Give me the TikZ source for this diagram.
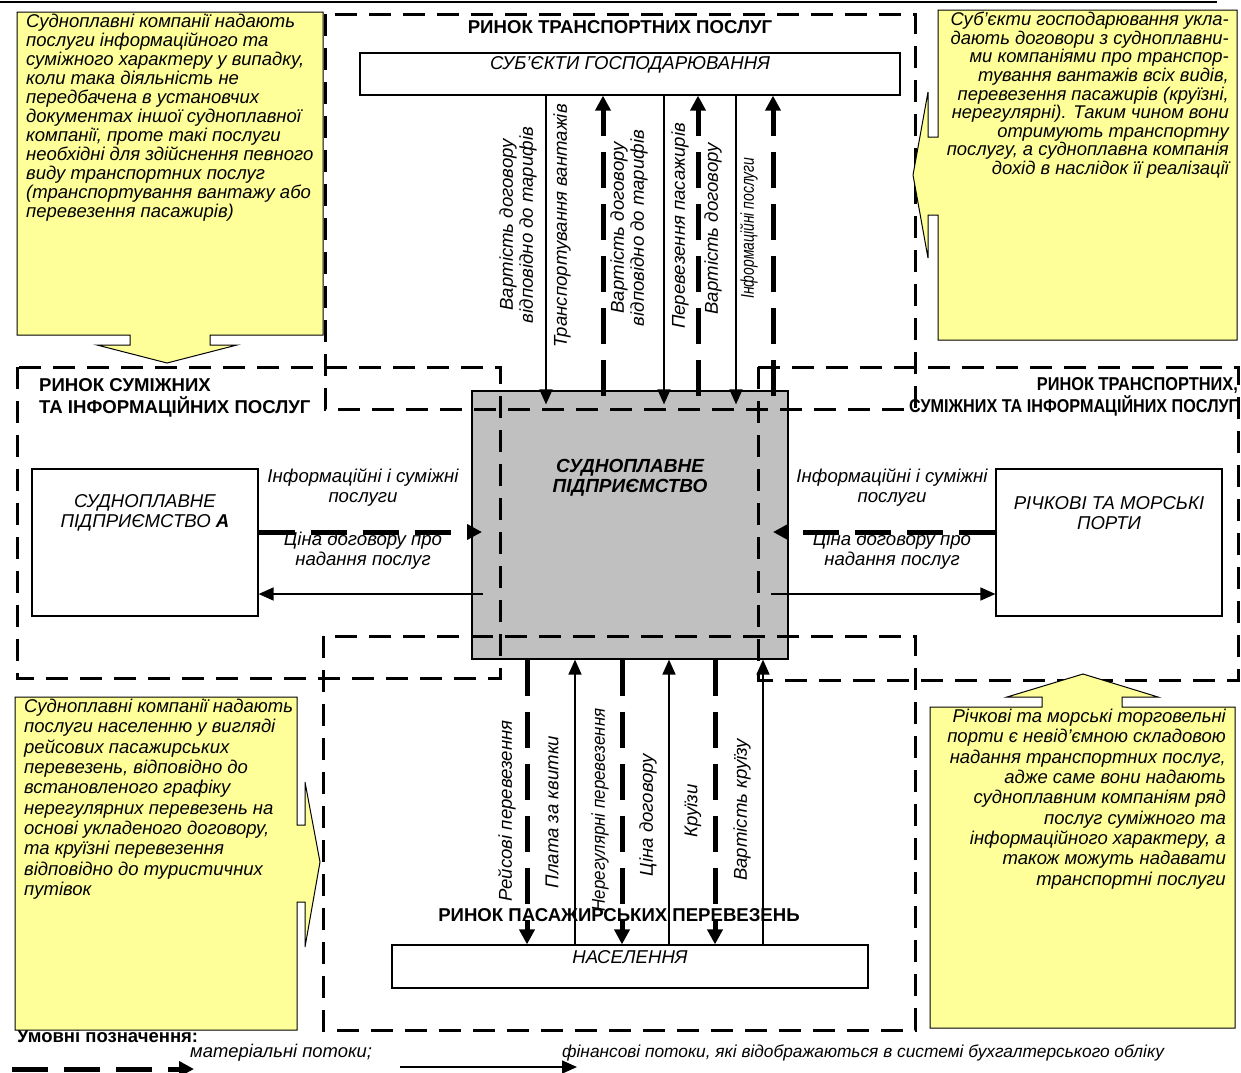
\documentclass[tikz,border=0pt]{standalone}
\usepackage{fontspec}
\setmainfont{Liberation Sans}
\usepackage{graphicx}
\usetikzlibrary{arrows.meta}
\definecolor{calloutyellow}{RGB}{255,255,153}
\definecolor{shipgray}{RGB}{192,192,192}
\newcommand\myBody{\fontsize{18.5}{19}\selectfont\itshape}
\newcommand\myBodyR{\fontsize{18.4}{18.6}\selectfont\itshape}
\newcommand\myBodyB{\fontsize{18.5}{20.3}\selectfont\itshape}
\newcommand\myLbl{\fontsize{18.6}{20}\selectfont\itshape}
\newcommand\myHead{\fontsize{18.6}{22}\selectfont\bfseries}
\begin{document}
\begin{tikzpicture}[x=1pt,y=-1pt,
  region/.style={draw, line width=3pt, dash pattern=on 22pt off 12pt},
  plainbox/.style={draw, line width=1.2pt, rectangle, inner sep=0pt, fill=white},
  callout/.style={draw, line width=1pt, fill=calloutyellow},
  matflow/.style={line width=5pt, dash pattern=on 36pt off 16pt, -{Triangle[length=15pt,width=15pt]}},
  finflow/.style={line width=1.6pt, -{Triangle[length=15pt,width=13pt]}},
  lbl/.style={font=\myLbl, align=center, inner sep=0pt},
  vlbl/.style={font=\myLbl, align=center, inner sep=0pt, rotate=90},
  head/.style={font=\myHead, inner sep=0pt}
]
\useasboundingbox (0,0) rectangle (1241,1072);

% top border
\coordinate (tb1) at (0,1.5);
\coordinate (tb2) at (1217,1.5);
\draw[line width=2pt] (tb1) -- (tb2);

% boxes
\node[plainbox, fill=shipgray, minimum width=316pt, minimum height=268pt] (ship) at (630,525) {};
\node[plainbox, minimum width=540pt, minimum height=42pt] (sub) at (630,74) {};
\node[plainbox, minimum width=476pt, minimum height=43pt] (pop) at (630,966.5) {};
\node[plainbox, minimum width=226pt, minimum height=147pt] (compA) at (145,542.5) {};
\node[plainbox, minimum width=226pt, minimum height=147pt] (ports) at (1109,542.5) {};

% legend heading (partly under callout)
\node[head, anchor=west, font=\fontsize{18.5}{22}\selectfont\bfseries] (legh) at (17,1036) {Умовні позначення:};

% regions
\draw[region] (325,14) rectangle (915,409);
\draw[region] (17,367) rectangle (500,678);
\draw[region] (758,367) rectangle (1238,680);
\draw[region] (323,636) rectangle (915,1030);

% callouts
\draw[callout] (17,12) -- (323,12) -- (323,335) -- (210,335) -- (210,345) -- (237,345) -- (167,363) -- (97,345) -- (130,345) -- (130,335) -- (17,335) -- cycle;
\draw[callout] (938,10) -- (1237,10) -- (1237,340) -- (938,340) -- (938,215) -- (928,215) -- (928,258) -- (913,175) -- (928,92) -- (928,137) -- (938,137) -- cycle;
\draw[callout] (15,697) -- (297,697) -- (297,825) -- (305,825) -- (305,782) -- (320,862) -- (305,947) -- (305,902) -- (297,902) -- (297,1030) -- (15,1030) -- cycle;
\draw[callout] (930,707) -- (1042,707) -- (1042,697) -- (1007,697) -- (1083,674) -- (1158,697) -- (1122,697) -- (1122,707) -- (1235,707) -- (1235,1028) -- (930,1028) -- cycle;

\node[anchor=north west, inner sep=0pt, align=left, font=\myBody] (tlt) at (26,14) {Судноплавні компанії надають\\послуги інформаційного та\\суміжного характеру у випадку,\\коли така діяльність не\\передбачена в установчих\\документах іншої судноплавної\\компанії, проте такі послуги\\необхідні для здійснення певного\\виду транспортних послуг\\(транспортування вантажу або\\перевезення пасажирів)};
\node[anchor=north east, inner sep=0pt, align=right, font=\myBodyR] (trt) at (1229,12) {Суб’єкти господарювання укла-\\дають договори з судноплавни-\\ми компаніями про транспор-\\тування вантажів всіх видів,\\перевезення пасажирів (круїзні,\\нерегулярні). Таким чином вони\\отримують транспортну\\послугу, а судноплавна компанія\\дохід в наслідок її реалізації};
\node[anchor=north west, inner sep=0pt, align=left, font=\myBodyB] (blt) at (24,699) {Судноплавні компанії надають\\послуги населенню у вигляді\\рейсових пасажирських\\перевезень, відповідно до\\встановленого графіку\\нерегулярних перевезень на\\основі укладеного договору,\\та круїзні перевезення\\відповідно до туристичних\\путівок};
\node[anchor=north east, inner sep=0pt, align=right, font=\myBodyB] (brt) at (1226,709) {Річкові та морські торговельні\\порти є невід’ємною складовою\\надання транспортних послуг,\\адже саме вони надають\\судноплавним компаніям ряд\\послуг суміжного та\\інформаційного характеру, а\\також можуть надавати\\транспортні послуги};

% region headings
\node[head] (h1) at (620,27) {РИНОК ТРАНСПОРТНИХ ПОСЛУГ};
\node[head, anchor=north west, align=left] (h2) at (39,378) {РИНОК СУМІЖНИХ\\ТА ІНФОРМАЦІЙНИХ ПОСЛУГ};
\node[head, anchor=north east, align=right] (h3) at (1238,377) {\scalebox{0.88}[1]{РИНОК ТРАНСПОРТНИХ,}\\\scalebox{0.87}[1]{СУМІЖНИХ ТА ІНФОРМАЦІЙНИХ ПОСЛУГ}};
\node[head] (h4) at (619,915) {РИНОК ПАСАЖИРСЬКИХ ПЕРЕВЕЗЕНЬ};

% box texts
\node[lbl] (subt) at (630,65) {СУБ’ЄКТИ ГОСПОДАРЮВАННЯ};
\node[lbl] (popt) at (630,957) {НАСЕЛЕННЯ};
\node[lbl, font=\fontsize{19}{20}\selectfont\bfseries\itshape] (shipt) at (630,478) {СУДНОПЛАВНЕ\\ПІДПРИЄМСТВО};
\node[lbl] (compAt) at (145,513) {СУДНОПЛАВНЕ\\ПІДПРИЄМСТВО \textbf{А}};
\node[lbl] (portst) at (1109,513) {РІЧКОВІ ТА МОРСЬКІ\\ПОРТИ};

% horizontal flows
\draw[matflow] (compA.east |- 0,532) -- (482,532);
\draw[finflow] (483,594) -- (compA.east |- 0,594);
\draw[matflow] (ports.west |- 0,532) -- (773,532);
\draw[finflow] (771,594) -- (ports.west |- 0,594);
\node[lbl] (la1) at (363,488) {Інформаційні і суміжні\\послуги};
\node[lbl] (la2) at (363,551) {Ціна договору про\\надання послуг};
\node[lbl] (lb1) at (892,488) {Інформаційні і суміжні\\послуги};
\node[lbl] (lb2) at (892,551) {Ціна договору про\\надання послуг};

% top vertical flows
\draw[finflow] (sub.south -| 546,0) -- ([yshift=-14pt]ship.north -| 546,0);
\draw[matflow] ([yshift=-6pt]ship.north -| 603,0) -- (sub.south -| 603,0);
\draw[finflow] (sub.south -| 664,0) -- ([yshift=-14pt]ship.north -| 664,0);
\draw[matflow] ([yshift=-6pt]ship.north -| 698,0) -- (sub.south -| 698,0);
\draw[finflow] (sub.south -| 736,0) -- ([yshift=-14pt]ship.north -| 736,0);
\draw[matflow] ([yshift=-6pt]ship.north -| 773,0) -- (sub.south -| 773,0);
\node[vlbl] (t1) at (518,225) {Вартість договору\\відповідно до тарифів};
\node[vlbl] (t2) at (562,226) {Транспортування вантажів};
\node[vlbl] (t3) at (629,228) {Вартість договору\\відповідно до тарифів};
\node[vlbl] (t4) at (680,226) {Перевезення пасажирів};
\node[vlbl] (t5) at (713,229) {Вартість договору};
\node[vlbl] (t6) at (749,228) {\scalebox{0.75}[1]{Інформаційні послуги}};

% bottom vertical flows
\draw[matflow] (ship.south -| 527,0) -- (pop.north -| 527,0);
\draw[finflow] (pop.north -| 575,0) -- (ship.south -| 575,0);
\draw[matflow] (ship.south -| 622,0) -- (pop.north -| 622,0);
\draw[finflow] (pop.north -| 669,0) -- (ship.south -| 669,0);
\draw[matflow] (ship.south -| 715,0) -- (pop.north -| 715,0);
\draw[finflow] (pop.north -| 763,0) -- (ship.south -| 763,0);
\node[vlbl] (b1) at (507,811) {Рейсові перевезення};
\node[vlbl] (b2) at (552,812) {Плата за квитки};
\node[vlbl] (b3) at (600,810) {\scalebox{0.91}[1]{Нерегулярні перевезення}};
\node[vlbl] (b4) at (648,815) {Ціна договору};
\node[vlbl] (b5) at (693,811) {Круїзи};
\node[vlbl] (b6) at (742,810) {Вартість круїзу};

% legend
\node[lbl, anchor=west, font=\fontsize{18.4}{20}\selectfont\itshape] (leg1) at (190,1053) {матеріальні потоки;};
\node[lbl, anchor=west, font=\fontsize{17.3}{20}\selectfont\itshape] (leg2) at (562,1053) {фінансові потоки, які відображаються в системі бухгалтерського обліку};
\coordinate (lg1s) at (12,1069);
\coordinate (lg1e) at (194,1069);
\coordinate (lg2s) at (400,1067);
\coordinate (lg2e) at (577,1067);
\draw[matflow] (lg1s) -- (lg1e);
\draw[finflow] (lg2s) -- (lg2e);
\end{tikzpicture}
\end{document}
